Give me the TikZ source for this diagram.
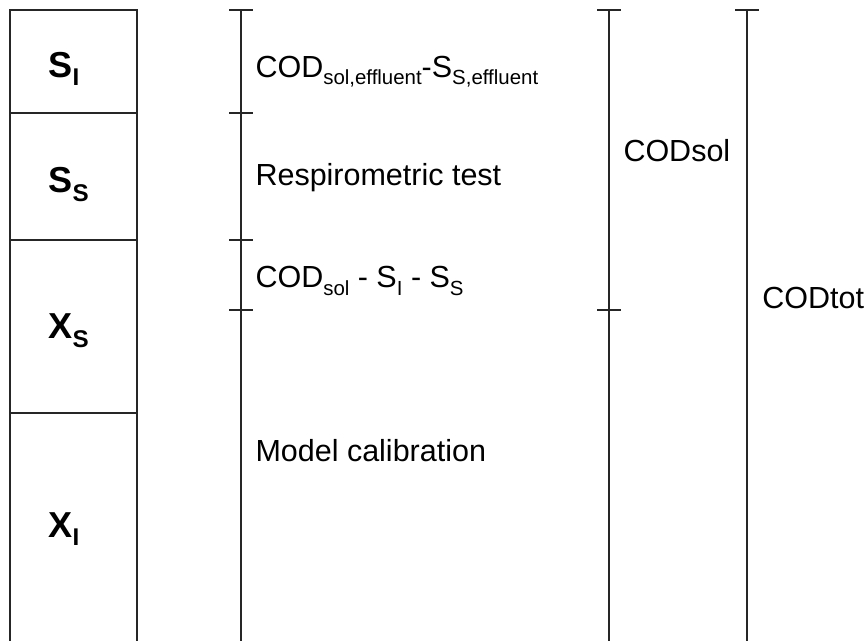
\documentclass[tikz,border=0pt]{standalone}
\usepackage{fontspec}
\usepackage{graphicx}
\setmainfont{Liberation Sans}
\usetikzlibrary{positioning}

% lowered, smaller index text
\newcommand{\lowsub}[1]{\raisebox{-0.24em}{\scalebox{0.67}{#1}}}

\begin{document}
\begin{tikzpicture}[
    rule/.style={draw=black!85, line width=0.5pt},
    part/.style={anchor=base west, inner sep=0pt, font=\fontsize{14.2}{17}\selectfont\bfseries},
    note/.style={anchor=base west, inner sep=0pt, font=\fontsize{12}{14}\selectfont}
]
\useasboundingbox (0,0) rectangle (11.963,-8.865);

% Fraction column (open at the bottom)
\draw[rule] (0.138,-8.865) |- (1.895,-0.138) -- (1.895,-8.865);
\foreach \y in {-1.563, -3.319, -5.712}
    \draw[rule] (0.138,\y) -- (1.895,\y);

\node[part] (si) at (0.664,-1.065) {S\lowsub{I}};
\node[part] (ss) at (0.664,-2.669) {S\lowsub{S}};
\node[part] (xs) at (0.664,-4.688) {X\lowsub{S}};
\node[part] (xi) at (0.664,-7.427) {X\lowsub{I}};

% Bars with their ticks
\foreach \x in {3.333, 8.422, 10.331}
    \draw[rule] (\x,-0.138) -- (\x,-8.865);
\foreach \x/\y in {3.333/-0.138, 3.333/-1.563, 3.333/-3.319, 3.333/-4.287,
                   8.422/-0.138, 8.422/-4.287, 10.331/-0.138}
    \draw[rule] (\x-0.16,\y) -- (\x+0.16,\y);

% Methods
\node[note] (inert) at (3.527,-1.065) {COD\lowsub{sol,effluent}-S\lowsub{S,effluent}};
\node[note] (resp) at (3.527,-2.559) {Respirometric test};
\node[note] (slow) at (3.527,-3.983) {COD\lowsub{sol} - S\lowsub{I} - S\lowsub{S}};
\node[note] (calib) at (3.527,-6.389) {Model calibration};

% Totals
\node[note] (codsol) at (8.616,-2.240) {CODsol};
\node[note] (codtot) at (10.538,-4.260) {CODtot};

\end{tikzpicture}
\end{document}
